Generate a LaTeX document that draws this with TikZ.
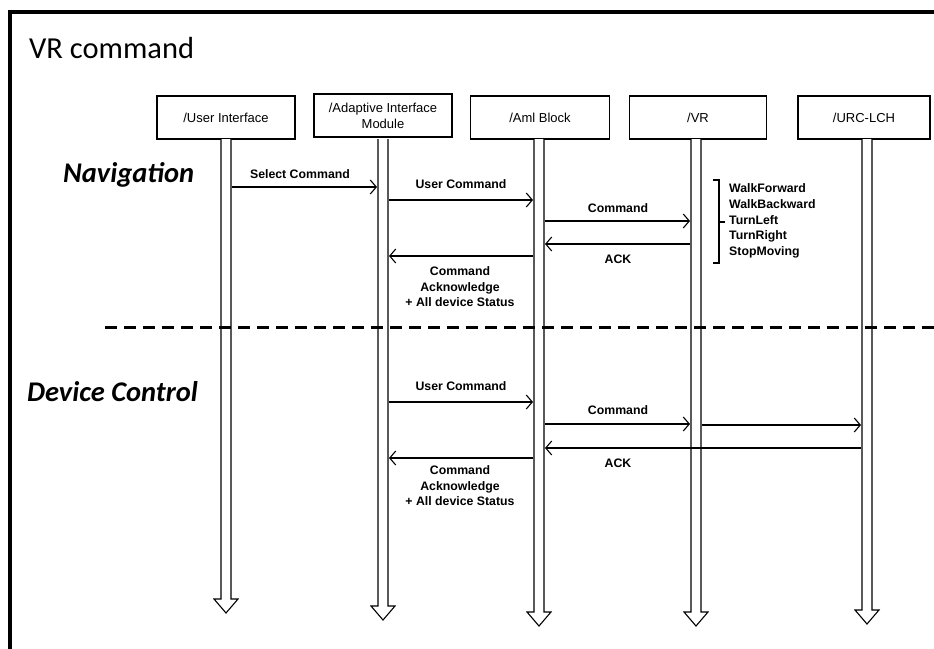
\documentclass[tikz,border=0pt]{standalone}
\usepackage{fontspec}
\setmainfont{Liberation Sans}
\newfontfamily\calfont{Carlito}
\usetikzlibrary{arrows.meta,calc}
\begin{document}
\begin{tikzpicture}[x=1pt,y=-1pt,
  actor/.style={draw, line width=1.3pt, minimum height=43pt, align=center, inner sep=1pt, font=\fontsize{13}{16}\selectfont},
  msg/.style={line width=1.1pt, -{Straight Barb[length=6pt,width=14pt,line width=1.1pt]}},
  lbl/.style={font=\bfseries\fontsize{12.3}{15.5}\selectfont, align=center, inner sep=0pt},
  lifebar/.style={draw, line width=1.1pt, fill=white, line join=miter},
  section/.style={font=\calfont\bfseries\itshape\fontsize{28.5}{30}\selectfont, inner sep=0pt}]
\useasboundingbox (0,0) rectangle (934,648);
% frame
\draw[line width=4.5pt] (10,670) -- (10,12) -- (960,12);
\node[anchor=base west, inner sep=0pt, font=\calfont\fontsize{30.5}{34}\selectfont] (title) at (29,58) {VR command};
% lifeline positions
\coordinate (L1) at (226,0);
\coordinate (L2) at (383,0);
\coordinate (L3) at (539,0);
\coordinate (L4) at (696,0);
\coordinate (L5) at (867,0);
% actors
\node[actor, minimum width=138pt] (a1) at (226,117.5) {/User Interface};
\node[actor, minimum width=138pt] (a2) at (383,115.5) {/Adaptive Interface\\Module};
\node[actor, minimum width=139pt] (a3) at (540,117.5) {/Aml Block};
\node[actor, minimum width=137pt] (a4) at (698,117.5) {/VR};
\node[actor, minimum width=132pt] (a5) at (864,117.5) {/URC-LCH};
% lifelines (hollow arrows)
\foreach \c/\yb in {L1/599, L2/606, L3/612, L4/612, L5/610}{
  \draw[lifebar] ($(\c)+(-5,139)$) -- ($(\c)+(-5,\yb)$) -- ($(\c)+(-12,\yb)$) -- ($(\c)+(0,\yb+14)$) -- ($(\c)+(12,\yb)$) -- ($(\c)+(5,\yb)$) -- ($(\c)+(5,139)$);
}
% section labels
\node[section, anchor=west] (nav) at (63,175) {Navigation};
\node[section, anchor=west] (dev) at (27,392) {Device Control};
\draw[line width=3pt, dash pattern=on 12pt off 7pt] (105,327) -- (934,327);
% Navigation messages
\draw[msg] ($(L1)+(6,187)$) -- ($(L2)+(-6,187)$);
\node[lbl] (m1) at (300,174) {Select Command};
\draw[msg] ($(L2)+(6,200)$) -- ($(L3)+(-6,200)$);
\node[lbl] (m2) at (461,184) {User Command};
\draw[msg] ($(L3)+(6,221)$) -- ($(L4)+(-6,221)$);
\node[lbl] (m3) at (618,208) {Command};
\draw[msg] ($(L4)+(-6,244)$) -- ($(L3)+(6,244)$);
\node[lbl] (m4) at (618,259) {ACK};
\draw[msg] ($(L3)+(-6,256)$) -- ($(L2)+(6,256)$);
\node[lbl] (m5) at (460,287) {Command\\Acknowledge\\+ All device Status};
% bracket list
\draw[line width=1.1pt] (713,180) -- (719,180) -- (719,263) -- (713,263);
\draw[line width=1.1pt] (719,222) -- (725,222);
\node[lbl, anchor=west, align=left, font=\bfseries\fontsize{12.3}{15.7}\selectfont] (cmds) at (729,221) {WalkForward\\WalkBackward\\TurnLeft\\TurnRight\\StopMoving};
% Device control messages
\draw[msg] ($(L2)+(6,402)$) -- ($(L3)+(-6,402)$);
\node[lbl] (m6) at (461,386) {User Command};
\draw[msg, line width=1.5pt] ($(L3)+(6,424)$) -- ($(L4)+(-6,424)$);
\draw[msg] ($(L4)+(6,425)$) -- ($(L5)+(-6,425)$);
\node[lbl] (m7) at (618,410) {Command};
\draw[msg] ($(L5)+(-6,448)$) -- ($(L3)+(6,448)$);
\node[lbl] (m8) at (618,463) {ACK};
\draw[msg] ($(L3)+(-6,458)$) -- ($(L2)+(6,458)$);
\node[lbl] (m9) at (460,486) {Command\\Acknowledge\\+ All device Status};
\end{tikzpicture}
\end{document}
